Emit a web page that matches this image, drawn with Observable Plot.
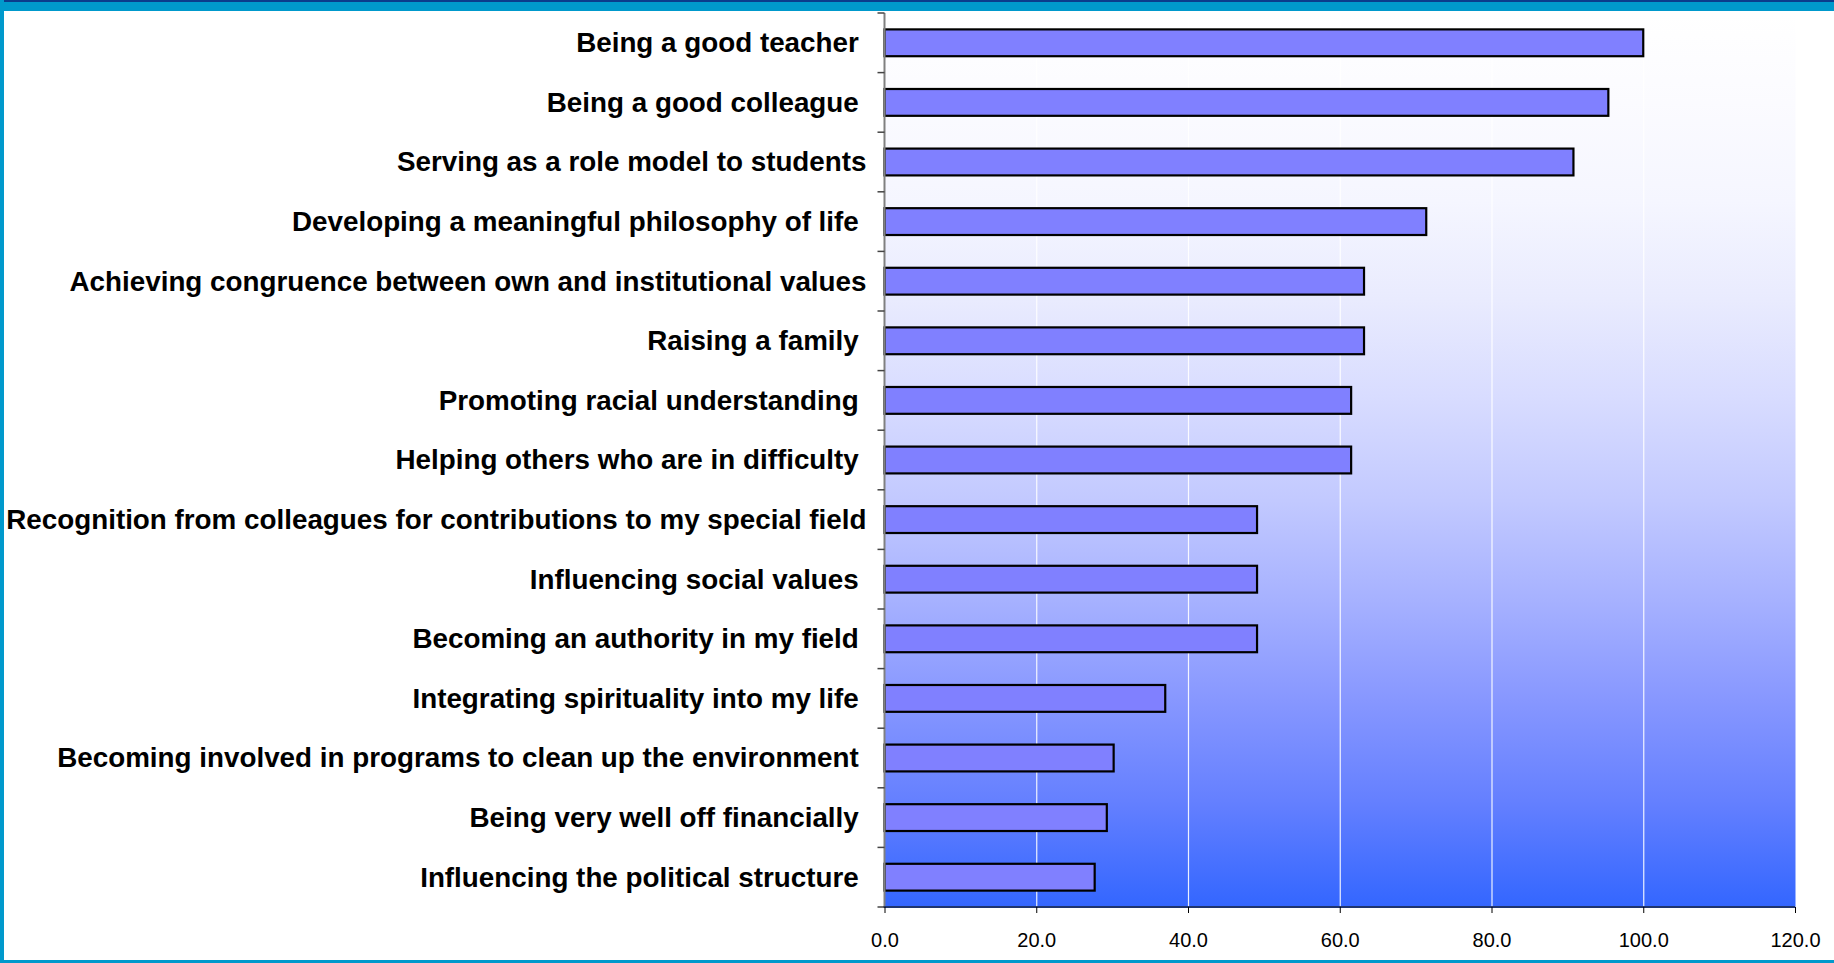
<!DOCTYPE html>
<html><head><meta charset="utf-8">
<script src="https://cdn.jsdelivr.net/npm/d3@7"></script>
<script src="https://cdn.jsdelivr.net/npm/@observablehq/plot@0.6"></script>
<style>
html,body{margin:0;padding:0;background:#fff;width:1834px;height:963px;overflow:hidden;}
#wrap{position:relative;width:1834px;height:963px;}
#chart{position:absolute;left:0;top:0;}
#topband{position:absolute;left:0;top:0;width:1834px;height:11px;background:#0099cc;border-top:2px solid #0b3c8c;box-sizing:border-box}
#leftband{position:absolute;left:0;top:0;width:4px;height:963px;background:#0099cc}
#bottomband{position:absolute;left:0;bottom:0;width:1834px;height:3px;background:#0099cc}
svg text{white-space:pre}
</style></head>
<body><div id="wrap"><div id="chart"></div><div id="topband"></div><div id="leftband"></div><div id="bottomband"></div></div>
<script>
const categories = [
  "Being a good teacher ",
  "Being a good colleague ",
  "Serving as a role model to students",
  "Developing a meaningful philosophy of life ",
  "Achieving congruence between own and institutional values",
  "Raising a family ",
  "Promoting racial understanding ",
  "Helping others who are in difficulty ",
  "Recognition from colleagues for contributions to my special field",
  "Influencing social values ",
  "Becoming an authority in my field ",
  "Integrating spirituality into my life ",
  "Becoming involved in programs to clean up the environment ",
  "Being very well off financially ",
  "Influencing the political structure "
];
const values = [100.0, 95.4, 90.8, 71.4, 63.2, 63.2, 61.5, 61.5, 49.1, 49.1, 49.1, 37.0, 30.2, 29.3, 27.7];
const xTicks = [0, 20, 40, 60, 80, 100, 120];
const gridTicks = [20, 40, 60, 80, 100];

const W = 1834, H = 963, mT = 13, mB = 56, mL = 884.5, mR = 39;
const n = categories.length;
const step = (H - mT - mB) / n;
const inset = step * 0.275;
const data = categories.map((c, i) => ({c, v: values[i]}));

const defsMark = () => {
  const defs = d3.create("svg:defs");
  const g = defs.append("linearGradient").attr("id", "bgGrad")
    .attr("x1", 0).attr("y1", 0).attr("x2", 0).attr("y2", 1);
  const stops = [[0, "#ffffff"], [0.1, "#fbfbff"], [0.21, "#f5f6ff"], [0.32, "#e9ebfe"], [0.43, "#d8dcff"],
                 [0.545, "#c2c9ff"], [0.657, "#a6b1ff"], [0.768, "#8797ff"], [0.88, "#6580ff"], [1, "#3366ff"]];
  stops.forEach(([o, c]) => g.append("stop").attr("offset", o).attr("stop-color", c));
  return defs.node();
};

const bandTicks = (index, scales, vals, dims) => {
  const g = d3.create("svg:g").attr("stroke", "#444").attr("stroke-width", 1.5);
  const y = scales.y;
  const ys = categories.map(c => y(c)).concat([y(categories[n - 1]) + step]);
  g.selectAll("line").data(ys).join("line")
    .attr("x1", dims.marginLeft - 7).attr("x2", dims.marginLeft)
    .attr("y1", d => d).attr("y2", d => d);
  return g.node();
};

const axisLines = (index, scales, vals, dims) => {
  const g = d3.create("svg:g");
  const x0 = scales.x(0), x1 = scales.x(120);
  const yb = dims.height - dims.marginBottom;
  g.append("line").attr("x1", x0).attr("x2", x0).attr("y1", dims.marginTop).attr("y2", yb)
    .attr("stroke", "#808080").attr("stroke-width", 2);
  g.append("line").attr("x1", x0 - 1).attr("x2", x1).attr("y1", yb).attr("y2", yb)
    .attr("stroke", "#1f3570").attr("stroke-width", 2);
  return g.node();
};

const chart = Plot.plot({
  width: W, height: H,
  marginTop: mT, marginBottom: mB, marginLeft: mL, marginRight: mR,
  style: {fontFamily: "'Liberation Sans', Arial, sans-serif", color: "#000", background: "transparent", overflow: "visible"},
  x: {domain: [0, 120], label: null},
  y: {domain: categories, padding: 0, round: false, label: null},
  marks: [
    defsMark,
    Plot.frame({fill: "url(#bgGrad)", stroke: null}),
    Plot.ruleX(gridTicks, {stroke: "#ffffff", strokeWidth: 1.2, strokeOpacity: 0.9}),
    Plot.barX(data, {x: "v", y: "c", fill: "#8080ff", stroke: "#000", strokeWidth: 2.2,
      insetTop: inset, insetBottom: inset}),
    axisLines,
    bandTicks,
    Plot.axisY({tickSize: 0, tickPadding: 18.5, fontSize: 27.8, fontWeight: "bold", label: null}),
    Plot.axisX({ticks: xTicks, tickFormat: d3.format(".1f"), tickSize: 6, tickPadding: 19, fontSize: 20, label: null})
  ]
});
document.getElementById("chart").appendChild(chart);
d3.select(chart).selectAll('[aria-label="y-axis tick label"]').attr("font-size", 27.8).attr("font-weight", "bold");
d3.select(chart).selectAll('[aria-label="x-axis tick label"]').attr("font-size", 20);
</script>
</body></html>
